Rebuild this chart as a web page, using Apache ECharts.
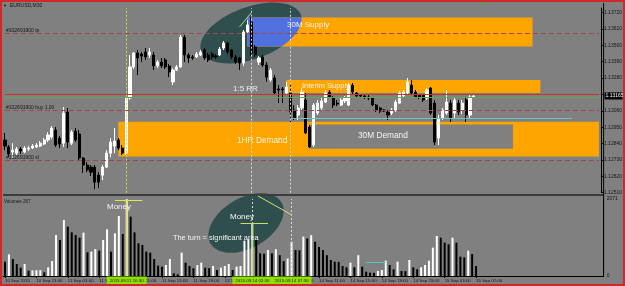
<!DOCTYPE html>
<html>
<head>
<meta charset="utf-8">
<script src="https://cdn.jsdelivr.net/npm/echarts@6/dist/echarts.min.js"></script>
<style>
html, body { margin: 0; padding: 0; background: #808080; }
#chart { width: 625px; height: 286px; }
</style>
</head>
<body>
<div id="chart"></div>
<script>
// EURUSD M30, 10 Sep 19:00 .. 15 Sep 07:30
const timeLabels = ['10 Sep 2015', '10 Sep 23:00', '11 Sep 03:00', '11 Sep 07:00', '11 Sep 11:00', '11 Sep 15:00',
    '11 Sep 19:00', '13 Sep 23:00', '14 Sep 03:00', '14 Sep 07:00', '14 Sep 11:00', '14 Sep 15:00',
    '14 Sep 19:00', '14 Sep 23:00', '15 Sep 03:00', '15 Sep 07:00'];
const priceTicks = [1.12510, 1.12620, 1.12730, 1.12840, 1.12950, 1.13060, 1.13170, 1.13280, 1.13390, 1.13500, 1.13610, 1.13720];
const volumeTicks = [0, 2071];

const openP = [1.12864, 1.12817, 1.12783, 1.12776, 1.12803, 1.12783, 1.12803, 1.12810, 1.12817, 1.12823,
    1.12837, 1.12864, 1.12884, 1.12931, 1.12877, 1.12843, 1.13052, 1.12843, 1.12924, 1.12904,
    1.12743, 1.12696, 1.12682, 1.12682, 1.12628, 1.12628, 1.12682, 1.12776, 1.12823, 1.12864,
    1.12810, 1.12776, 1.13146, 1.13355, 1.13449, 1.13442, 1.13455, 1.13435, 1.13435, 1.13361,
    1.13388, 1.13402, 1.13361, 1.13254, 1.13334, 1.13355, 1.13556, 1.13435, 1.13422, 1.13422,
    1.13435, 1.13469, 1.13435, 1.13442, 1.13428, 1.13435, 1.13482, 1.13516, 1.13469, 1.13422,
    1.13415, 1.13381, 1.13590, 1.13657, 1.13489, 1.13388, 1.13422, 1.13368, 1.13267, 1.13281,
    1.13207, 1.13207, 1.13180, 1.13180, 1.13065, 1.13032, 1.13079, 1.13133, 1.12951, 1.12830,
    1.13045, 1.13079, 1.13119, 1.13186, 1.13146, 1.13112, 1.13099, 1.13126, 1.13099, 1.13233,
    1.13180, 1.13166, 1.13160, 1.13153, 1.13146, 1.13099, 1.13079, 1.13065, 1.13052, 1.13045,
    1.13065, 1.13112, 1.13160, 1.13180, 1.13233, 1.13186, 1.13166, 1.13166, 1.13146, 1.13213,
    1.13112, 1.12877, 1.13011, 1.13045, 1.13112, 1.13045, 1.13112, 1.13065, 1.13133, 1.13032,
    1.13153];
const closeP = [1.12823, 1.12770, 1.12796, 1.12803, 1.12790, 1.12810, 1.12810, 1.12823, 1.12830, 1.12843,
    1.12864, 1.12897, 1.12944, 1.12830, 1.12837, 1.13045, 1.12850, 1.12917, 1.12864, 1.12743,
    1.12696, 1.12662, 1.12648, 1.12581, 1.12581, 1.12682, 1.12776, 1.12850, 1.12857, 1.12810,
    1.12776, 1.13146, 1.13355, 1.13449, 1.13415, 1.13428, 1.13422, 1.13455, 1.13361, 1.13388,
    1.13361, 1.13355, 1.13321, 1.13334, 1.13355, 1.13556, 1.13435, 1.13415, 1.13415, 1.13442,
    1.13455, 1.13415, 1.13402, 1.13422, 1.13422, 1.13475, 1.13516, 1.13455, 1.13422, 1.13388,
    1.13381, 1.13590, 1.13637, 1.13449, 1.13435, 1.13415, 1.13368, 1.13287, 1.13334, 1.13180,
    1.13200, 1.13200, 1.13220, 1.13052, 1.13011, 1.13079, 1.13186, 1.12911, 1.12817, 1.13099,
    1.13112, 1.13126, 1.13180, 1.13153, 1.13099, 1.13106, 1.13133, 1.13146, 1.13233, 1.13186,
    1.13160, 1.13160, 1.13153, 1.13146, 1.13099, 1.13065, 1.13059, 1.13059, 1.13032, 1.13065,
    1.13119, 1.13180, 1.13186, 1.13254, 1.13180, 1.13153, 1.13153, 1.13133, 1.13200, 1.13045,
    1.12850, 1.13011, 1.13065, 1.13119, 1.13011, 1.13133, 1.13052, 1.13112, 1.13032, 1.13153,
    1.13160];
const lowP = [1.12796, 1.12749, 1.12743, 1.12763, 1.12770, 1.12776, 1.12790, 1.12803, 1.12810, 1.12817,
    1.12830, 1.12850, 1.12870, 1.12817, 1.12810, 1.12817, 1.12810, 1.12830, 1.12850, 1.12729,
    1.12642, 1.12648, 1.12622, 1.12534, 1.12541, 1.12595, 1.12675, 1.12749, 1.12776, 1.12796,
    1.12763, 1.12763, 1.13133, 1.13341, 1.13301, 1.13388, 1.13402, 1.13415, 1.13334, 1.13348,
    1.13348, 1.13341, 1.13287, 1.13233, 1.13328, 1.13348, 1.13388, 1.13381, 1.13402, 1.13415,
    1.13428, 1.13402, 1.13388, 1.13408, 1.13408, 1.13428, 1.13469, 1.13442, 1.13408, 1.13375,
    1.13334, 1.13361, 1.13576, 1.13428, 1.13422, 1.13368, 1.13355, 1.13254, 1.13254, 1.13166,
    1.13112, 1.13112, 1.13166, 1.12985, 1.12998, 1.12998, 1.13065, 1.12904, 1.12810, 1.12817,
    1.13032, 1.13065, 1.13112, 1.13146, 1.13079, 1.13092, 1.13092, 1.13112, 1.13092, 1.13173,
    1.13153, 1.13153, 1.13139, 1.13133, 1.13092, 1.13052, 1.13045, 1.13052, 1.12998, 1.13032,
    1.13052, 1.13106, 1.13153, 1.13173, 1.13166, 1.13146, 1.13139, 1.13119, 1.13133, 1.13032,
    1.12830, 1.12830, 1.12998, 1.13032, 1.12985, 1.13011, 1.13032, 1.13038, 1.12985, 1.13011,
    1.13146];
const highP = [1.12911, 1.12830, 1.12843, 1.12817, 1.12817, 1.12823, 1.12823, 1.12837, 1.12843, 1.12857,
    1.12877, 1.12917, 1.12958, 1.12951, 1.12891, 1.13086, 1.13079, 1.12931, 1.12944, 1.12931,
    1.12749, 1.12716, 1.12696, 1.12696, 1.12648, 1.12696, 1.12796, 1.12877, 1.12944, 1.12877,
    1.12830, 1.13153, 1.13435, 1.13455, 1.13469, 1.13455, 1.13482, 1.13482, 1.13455, 1.13402,
    1.13415, 1.13415, 1.13375, 1.13348, 1.13368, 1.13570, 1.13570, 1.13449, 1.13435, 1.13455,
    1.13469, 1.13482, 1.13449, 1.13455, 1.13442, 1.13489, 1.13529, 1.13523, 1.13475, 1.13435,
    1.13422, 1.13603, 1.13670, 1.13691, 1.13502, 1.13428, 1.13435, 1.13388, 1.13348, 1.13301,
    1.13233, 1.13220, 1.13254, 1.13247, 1.13099, 1.13099, 1.13213, 1.13180, 1.12964, 1.13112,
    1.13133, 1.13153, 1.13200, 1.13200, 1.13160, 1.13133, 1.13146, 1.13160, 1.13247, 1.13247,
    1.13186, 1.13173, 1.13166, 1.13166, 1.13153, 1.13106, 1.13086, 1.13072, 1.13065, 1.13079,
    1.13133, 1.13193, 1.13200, 1.13281, 1.13267, 1.13200, 1.13173, 1.13173, 1.13213, 1.13220,
    1.13133, 1.13032, 1.13079, 1.13200, 1.13133, 1.13146, 1.13133, 1.13133, 1.13153, 1.13166,
    1.13173];
const volumes = [385, 584, 457, 323, 224, 323, 143, 150, 155, 160,
    99, 233, 403, 1103, 968, 1506, 1327, 1174, 1103, 1031,
    1166, 637, 655, 726, 682, 968, 1255, 655, 1148, 1614,
    1130, 2071, 1596, 1174, 879, 834, 655, 628, 457, 278,
    251, 296, 457, 72, 45, 628, 359, 269, 206, 296,
    359, 224, 210, 269, 161, 224, 269, 323, 161, 251,
    269, 950, 987, 1426, 968, 610, 600, 700, 610, 720,
    560, 400, 470, 920, 700, 690, 1060, 1010, 1100, 920,
    780, 700, 560, 430, 385, 380, 269, 233, 359, 233,
    560, 251, 116, 90, 85, 134, 161, 412, 296, 179,
    385, 134, 130, 430, 233, 179, 233, 296, 412, 762,
    1076, 1031, 897, 852, 1031, 897, 520, 500, 682, 592,
    267];

// drawn objects: [bar from, price top, bar to, price bottom]
const supply30 = [62, 1.13687, 135, 1.13492];
const interimSupply = [72, 1.13267, 137, 1.13180];
const demand1h = [29, 1.12987, 152, 1.12753];
const demand30 = [78, 1.12968, 130, 1.12806];
const orderLevels = [1.13583, 1.13066, 1.12729];
const orderNames = ['#102691900 tp', '#102691900 buy 1.00', '#102691900 sl'];
const askLevel = 1.13173;
const bidLevel = 1.13153;
const cyanLevel = [73, 145, 1.13011];
const vLines = [31, 63, 73];
const vLineTimes = ['2015.09.11 10:30', '2015.09.14 02:30', '2015.09.14 07:30'];
const lastPrice = '1.13165';

const nBars = 153;
const cats = [];
for (let i = 0; i < nBars; i++) cats.push(String(i));
const candles = openP.map((o, i) => [o, closeP[i], lowP[i], highP[i]]);

const FONT = 'Liberation Sans, Arial, sans-serif';
const ORANGE = '#ffa500';
const TEAL = '#2f4f4f';
const BG = '#808080';
const dash = [5, 3];

// horizontal line across the whole price window
const hLine = (v, style, label) => [
    { coord: [0, v], lineStyle: style, label: label || { show: false } },
    { coord: [nBars - 1, v] }
];

const chart = echarts.init(document.getElementById('chart'));

chart.setOption({
    animation: false,
    backgroundColor: BG,
    textStyle: { fontFamily: FONT },
    grid: [
        { left: 3.04, width: 600.6, top: 8, height: 184.7 },
        { left: 3.04, width: 600.6, top: 199, height: 77 }
    ],
    xAxis: [
        {
            type: 'category', gridIndex: 0, data: cats, boundaryGap: true,
            axisLine: { show: false }, axisTick: { show: false }, axisLabel: { show: false }, splitLine: { show: false }
        },
        {
            type: 'category', gridIndex: 1, data: cats, boundaryGap: true,
            axisLine: { show: true, lineStyle: { color: '#000', width: 1 } },
            axisTick: { show: true, length: 2, alignWithLabel: true, lineStyle: { color: '#000' },
                interval: (i) => i % 8 === 0 && i <= 120 },
            axisLabel: {
                interval: (i) => i % 8 === 0 && i <= 120,
                formatter: (v, i) => timeLabels[i / 8],
                align: 'left', fontSize: 4.4, color: '#151515', margin: 2.5
            },
            splitLine: { show: false }
        }
    ],
    yAxis: [
        {
            type: 'value', gridIndex: 0, position: 'right', min: 1.12510, max: 1.13751,
            axisLine: { show: true, lineStyle: { color: '#000' } },
            axisTick: { show: true, length: 2, customValues: priceTicks, lineStyle: { color: '#000' } },
            axisLabel: { customValues: priceTicks, formatter: (v) => v.toFixed(5), fontSize: 5, color: '#151515', margin: 3 },
            splitLine: { show: false }
        },
        {
            type: 'value', gridIndex: 1, position: 'right', min: 0, max: 2071,
            axisLine: { show: true, lineStyle: { color: '#000' } },
            axisTick: { show: false, customValues: volumeTicks },
            axisLabel: { customValues: volumeTicks, formatter: (v) => String(v), fontSize: 5, color: '#151515', margin: 3 },
            splitLine: { show: false }
        }
    ],
    series: [
        {
            name: 'zones', type: 'line', xAxisIndex: 0, yAxisIndex: 0, data: [], z: 1,
            markArea: {
                silent: true,
                data: [
                    [{ coord: [supply30[0], supply30[1]], itemStyle: { color: ORANGE } }, { coord: [supply30[2], supply30[3]] }],
                    [{ coord: [interimSupply[0], interimSupply[1]], itemStyle: { color: ORANGE } }, { coord: [interimSupply[2], interimSupply[3]] }],
                    [{ coord: [demand1h[0], demand1h[1]], itemStyle: { color: ORANGE } }, { coord: [demand1h[2], demand1h[3]] }],
                    [{ coord: [demand30[0], demand30[1]], itemStyle: { color: BG } }, { coord: [demand30[2], demand30[3]] }]
                ]
            }
        },
        {
            name: 'EURUSD', type: 'candlestick', xAxisIndex: 0, yAxisIndex: 0, data: candles,
            barWidth: 2.6,
            itemStyle: { color: '#ffffff', color0: '#000000', borderColor: '#ffffff', borderColor0: '#000000', borderWidth: 1 },
            markLine: {
                silent: true, symbol: ['none', 'none'],
                label: { show: false },
                data: [
                    ...orderLevels.map((v, k) => hLine(v, { color: '#a04848', type: dash, width: 1 },
                        { show: true, position: 'insideStartTop', formatter: orderNames[k], fontSize: 5, color: '#151515', distance: [1, 0] })),
                    hLine(askLevel, { color: '#c83232', type: 'solid', width: 1 }),
                    hLine(bidLevel, { color: '#5aaa5a', type: 'solid', width: 1 }),
                    [{ coord: [cyanLevel[0], cyanLevel[2]], lineStyle: { color: '#6cc4c8', type: 'solid', width: 1.2 } },
                     { coord: [cyanLevel[1], cyanLevel[2]] }],
                    { xAxis: vLines[0], lineStyle: { color: '#c8dc50', type: [2, 2], width: 1 } },
                    { xAxis: vLines[1], lineStyle: { color: '#d8d8d8', type: [2, 2], width: 1 } },
                    { xAxis: vLines[2], lineStyle: { color: '#d8d8d8', type: [2, 2], width: 1 } },
                    [{ coord: [60, 1.13623], lineStyle: { color: '#a8e098', type: 'solid', width: 1 } }, { coord: [63, 1.13718] }]
                ]
            }
        },
        {
            name: 'Volumes', type: 'bar', xAxisIndex: 1, yAxisIndex: 1, data: volumes,
            barWidth: 2,
            itemStyle: {
                color: (p) => (p.dataIndex > 0 && volumes[p.dataIndex] > volumes[p.dataIndex - 1]) ? '#ffffff' : '#000000'
            },
            markLine: {
                silent: true, symbol: ['none', 'none'],
                label: { show: false },
                data: [
                    { xAxis: vLines[1], lineStyle: { color: '#d8d8d8', type: [2, 2], width: 1 } },
                    { xAxis: vLines[2], lineStyle: { color: '#d8d8d8', type: [2, 2], width: 1 } },
                    [{ coord: [vLines[0], 2071], lineStyle: { color: '#e6e640', type: 'solid', width: 1 } }, { coord: [vLines[0], 0] }],
                    [{ coord: [28, 2044], lineStyle: { color: '#e6e640', type: 'solid', width: 1 } }, { coord: [35, 2044] }],
                    [{ coord: [vLines[1], 1426], lineStyle: { color: '#c8e060', type: 'solid', width: 1 } }, { coord: [vLines[1], 0] }],
                    [{ coord: [60, 1426], lineStyle: { color: '#c8e060', type: 'solid', width: 1 } }, { coord: [67, 1426] }],
                    [{ coord: [92, 377], lineStyle: { color: '#60c0c0', type: 'solid', width: 1 } }, { coord: [97, 377] }]
                ]
            }
        }
    ]
});

// ---- drawn overlays ----
function ellipsePts(cx, cy, a, b, th, n) {
    const pts = [];
    for (let k = 0; k < n; k++) {
        const t = k / n * Math.PI * 2;
        const u = a * Math.cos(t), v = b * Math.sin(t);
        pts.push([cx + u * Math.cos(th) + v * Math.sin(th), cy - u * Math.sin(th) + v * Math.cos(th)]);
    }
    return pts;
}
function clipEdge(pts, inside, cut) {
    const out = [];
    for (let k = 0; k < pts.length; k++) {
        const p = pts[k], q = pts[(k + 1) % pts.length];
        const pi = inside(p), qi = inside(q);
        if (pi) out.push(p);
        if (pi !== qi) out.push(cut(p, q));
    }
    return out;
}
function clipRect(pts, x1, y1, x2, y2) {
    const atX = (x) => (p, q) => [x, p[1] + (x - p[0]) / (q[0] - p[0]) * (q[1] - p[1])];
    const atY = (y) => (p, q) => [p[0] + (y - p[1]) / (q[1] - p[1]) * (q[0] - p[0]), y];
    pts = clipEdge(pts, (p) => p[0] >= x1, atX(x1));
    pts = clipEdge(pts, (p) => p[0] <= x2, atX(x2));
    pts = clipEdge(pts, (p) => p[1] >= y1, atY(y1));
    pts = clipEdge(pts, (p) => p[1] <= y2, atY(y2));
    return pts;
}

const toPx = (g, i, v) => chart.convertToPixel({ gridIndex: g }, [i, v]);
const mainEll = ellipsePts(251, 33, 53, 26, 20 * Math.PI / 180, 96);
const volEll = ellipsePts(246, 223, 41, 25, 30 * Math.PI / 180, 96);
const sA = toPx(0, supply30[0], supply30[1]);
const sB = toPx(0, supply30[2], supply30[3]);
const blue = clipRect(mainEll, Math.min(sA[0], sB[0]), Math.min(sA[1], sB[1]), Math.max(sA[0], sB[0]), Math.max(sA[1], sB[1]));

const txt = (x, y, text, size, color, extra) => Object.assign({
    type: 'text', z: 20, silent: true,
    style: { x: x, y: y, text: text, fill: color, fontSize: size, fontFamily: FONT, verticalAlign: 'middle' }
}, extra || {});

const elements = [
    { type: 'polygon', z: 0, silent: true, shape: { points: mainEll }, style: { fill: TEAL } },
    { type: 'polygon', z: 0, silent: true, shape: { points: volEll }, style: { fill: TEAL } },
    { type: 'polygon', z: 1.5, silent: true, shape: { points: blue }, style: { fill: '#5070e0' } },
    { type: 'rect', z: 20, silent: true, shape: { x: 3, y: 194, width: 601, height: 2 }, style: { fill: '#3c3c3c' } },
    { type: 'line', z: 20, silent: true, shape: { x1: 603.6, y1: 3, x2: 603.6, y2: 277 }, style: { stroke: '#000', lineWidth: 1 } },
    { type: 'line', z: 20, silent: true, shape: { x1: 258, y1: 196, x2: 292, y2: 215 }, style: { stroke: '#d8e070', lineWidth: 1 } },
    { type: 'rect', z: 20, silent: true, shape: { x: 480, y: 1.5, width: 5, height: 2.5 }, style: { fill: '#50a050' } },
    txt(287, 25, '30M Supply', 8, '#f4f4f4'),
    txt(302, 85.5, 'Interim Supply', 7.5, '#fbf3e0'),
    txt(233, 88.5, '1:5 RR', 8, '#eeeeee'),
    txt(237, 141, '1HR Demand', 8.3, '#fbf3e0'),
    txt(358, 136, '30M Demand', 8.3, '#f4f4f4'),
    txt(107, 207, 'Money', 8, '#f4f4f4'),
    txt(230, 217, 'Money', 8, '#f4f4f4'),
    txt(173, 238, 'The turn = significant area', 7.4, '#f4f4f4'),
    txt(10, 6, 'EURUSD,M30', 5, '#151515'),
    txt(3, 6, '\u25BC', 4, '#151515'),
    txt(4, 201.5, 'Volumes 267', 4.6, '#151515'),
    { type: 'rect', z: 21, silent: true, shape: { x: 604.5, y: 92.5, width: 18, height: 7 }, style: { fill: '#000' } },
    txt(605.5, 96, lastPrice, 5, '#ffffff', { z: 22 }),
    { type: 'rect', z: 30, silent: true, shape: { x: 0.75, y: 0.75, width: 623.5, height: 284.5 }, style: { fill: 'none', stroke: '#d02828', lineWidth: 2.5 } }
];
vLines.forEach((idx, k) => {
    const x = toPx(1, idx, 0)[0];
    elements.push({ type: 'rect', z: 25, silent: true, shape: { x: x - 20, y: 276.5, width: 40, height: 8 }, style: { fill: '#8ee000' } });
    elements.push(txt(x, 280.5, vLineTimes[k], 4.4, '#1a1a1a', { z: 26 }));
    elements[elements.length - 1].style.align = 'center';
});

chart.setOption({ graphic: { elements: elements } });
</script>
</body>
</html>
